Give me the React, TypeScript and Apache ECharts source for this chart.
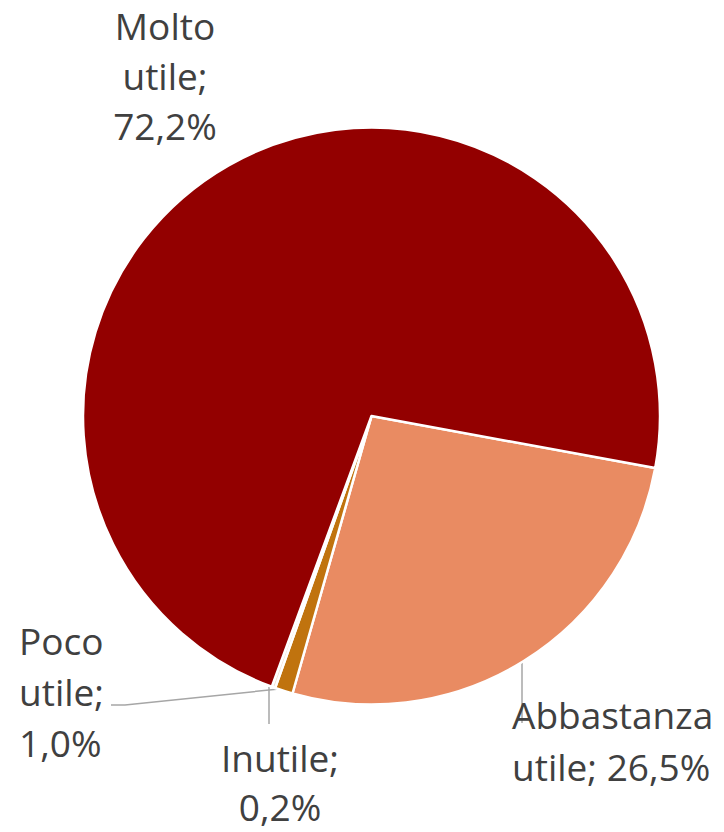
import React, { useEffect, useRef } from "react";
import * as echarts from "echarts";

const categories = ["Abbastanza utile", "Poco utile", "Inutile", "Molto utile"];
const values = [26.5, 1.0, 0.2, 72.2];
const colors = ["#E98B62", "#C0730E", "#F4E1D2", "#930000"];
const labelTexts = [
  ["Abbastanza", "utile; 26,5%"],
  ["Poco", "utile;", "1,0%"],
  ["Inutile;", "0,2%"],
  ["Molto", "utile;", "72,2%"],
];
const labelLineHeights = [52, 51, 49, 50];

// label block anchors [x, y, align]
const labelAnchors: [number, number, string][] = [
  [512, 688, "left"],
  [19, 615, "left"],
  [280, 733, "center"],
  [165, 0, "center"],
];

export default function App() {
  const ref = useRef<HTMLDivElement>(null);
  useEffect(() => {
    document.body.style.margin = "0";
    const chart = echarts.init(ref.current!, null, { renderer: "svg" });
    chart.setOption({
      animation: false,
      backgroundColor: "#ffffff",
      series: [
        {
          type: "pie",
          center: [371.5, 416],
          radius: [0, 288.5],
          startAngle: -10.4,
          clockwise: true,
          avoidLabelOverlap: false,
          itemStyle: { borderColor: "#ffffff", borderWidth: 2.5 },
          data: categories.map((c, i) => ({
            name: c,
            value: values[i],
            itemStyle: { color: colors[i] },
            label: { lineHeight: labelLineHeights[i] },
          })),
          label: {
            show: true,
            formatter: (p: any) => labelTexts[p.dataIndex].join("\n"),
            fontFamily: "Open Sans",
            fontSize: 37,
            color: "#404040",
          },
          labelLine: { show: false },
          labelLayout: (p: any) => {
            const a = labelAnchors[p.dataIndex];
            return { x: a[0], y: a[1], align: a[2], verticalAlign: "top" };
          },
        },
      ],
      graphic: [
        {
          type: "polyline",
          shape: { points: [[111, 705], [125, 705], [279, 689]] },
          style: { stroke: "#A6A6A6", lineWidth: 1.5, fill: null },
        },
        {
          type: "line",
          shape: { x1: 269, y1: 687, x2: 269, y2: 724 },
          style: { stroke: "#A6A6A6", lineWidth: 1.5 },
        },
        {
          type: "line",
          shape: { x1: 522, y1: 662, x2: 522, y2: 723 },
          style: { stroke: "#A6A6A6", lineWidth: 1.5 },
        },
      ],
    });
    return () => chart.dispose();
  }, []);
  return <div ref={ref} style={{ width: 724, height: 832 }} />;
}
